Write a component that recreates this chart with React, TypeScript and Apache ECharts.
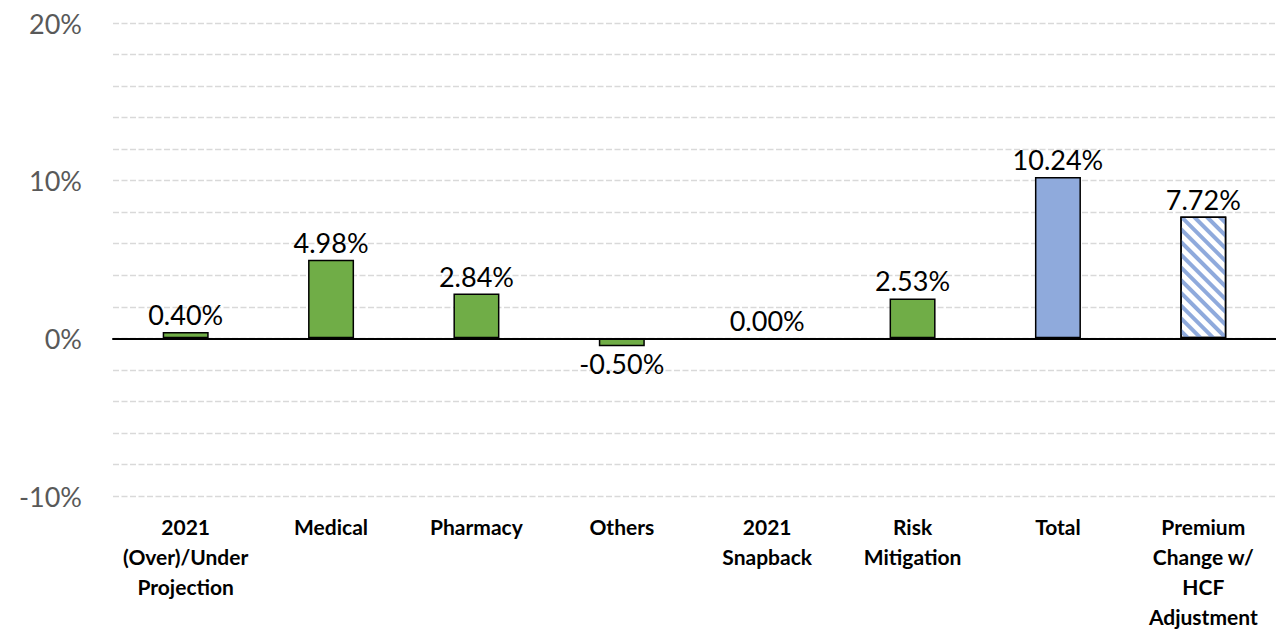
import React, { useEffect, useRef } from "react";
import * as echarts from "echarts";

const categories = [
  "2021\n(Over)/Under\nProjection",
  "Medical",
  "Pharmacy",
  "Others",
  "2021\nSnapback",
  "Risk\nMitigation",
  "Total",
  "Premium\nChange w/\nHCF\nAdjustment",
];
const values = [0.4, 4.98, 2.84, -0.5, 0.0, 2.53, 10.24, 7.72];
const barKinds = ["green", "green", "green", "green", "green", "green", "blue", "hatched"];
const yTickLabels = [-10, 0, 10, 20];

export default function App() {
  const ref = useRef<HTMLDivElement>(null);
  useEffect(() => {
    if (!ref.current) return;
    const chart = echarts.init(ref.current, null, { renderer: "svg" });
    const data = values.map((v, i) => {
      const kind = barKinds[i];
      const itemStyle: any = {
        borderColor: "#000",
        borderWidth: v === 0 ? 0 : 1.5,
        color: kind === "green" ? "#70AD47" : kind === "blue" ? "#8FAADC" : "#FFFFFF",
      };
      if (kind === "hatched") {
        itemStyle.decal = {
          symbol: "rect",
          symbolSize: 1,
          dashArrayX: [1, 0],
          dashArrayY: [4, 5],
          rotation: Math.PI / 4,
          color: "#8FAADC",
        };
      }
      return {
        value: v,
        itemStyle,
        label: { position: v < 0 ? "bottom" : "top" },
      };
    });
    chart.setOption({
      animation: false,
      grid: { left: 113, right: 0, top: 23, bottom: 130, containLabel: false },
      xAxis: {
        type: "category",
        data: categories,
        z: 3,
        axisLine: { onZero: true, lineStyle: { color: "#000", width: 2 } },
        axisTick: { show: false },
        axisLabel: {
          interval: 0,
          margin: 15,
          fontFamily: "Lato",
          fontWeight: "bold",
          fontSize: 21,
          lineHeight: 30,
          color: "#000",
        },
      },
      yAxis: {
        type: "value",
        min: -10,
        max: 20,
        interval: 2,
        axisLine: { show: false },
        axisTick: { show: false },
        splitLine: { lineStyle: { color: "#D9D9D9", type: [6, 2.5], width: 1.3 } },
        axisLabel: {
          margin: 31,
          fontFamily: "Lato",
          fontSize: 27,
          color: "#595959",
          formatter: (v: number) => (yTickLabels.includes(v) ? v + "%" : ""),
        },
      },
      series: [
        {
          type: "bar",
          data,
          barWidth: 46,
          label: {
            show: true,
            distance: 4,
            fontFamily: "Lato",
            fontSize: 27,
            color: "#000",
            formatter: (p: any) => p.value.toFixed(2) + "%",
          },
        },
      ],
    });
    return () => chart.dispose();
  }, []);
  return (
    <div
      ref={ref}
      style={{ position: "absolute", left: 0, top: 0, width: 1276, height: 631, background: "#fff" }}
    />
  );
}
